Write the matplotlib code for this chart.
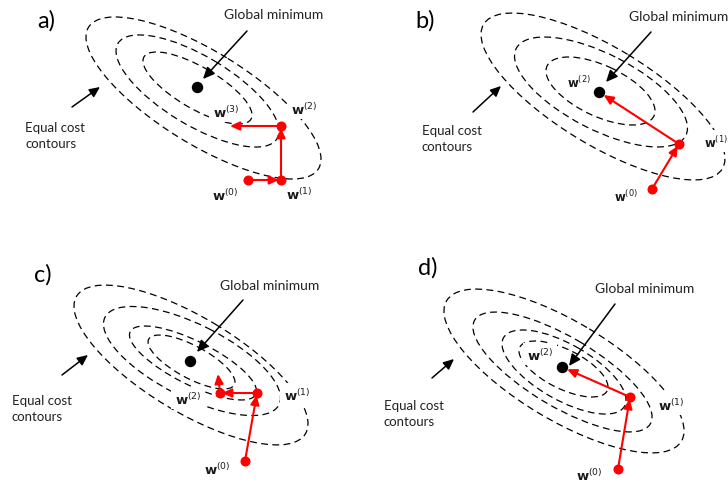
import matplotlib
matplotlib.use('Agg')
import matplotlib.pyplot as plt
from matplotlib.patches import Ellipse

# diagram coordinates are in image pixels (x right, y down)
# contours: (cx, cy, semi-major, semi-minor, tilt in degrees)
contours_a = [(203.5, 99, 135, 46.4, 31.6), (197.5, 92, 92.7, 34.5, 30.9), (197.5, 89, 61.9, 20.9, 30.2)]
contours_b = [(603, 97.5, 139.5, 48.8, 31.2), (601, 93, 95.3, 37.7, 27.2), (600.5, 92, 59, 25.4, 25.1)]
contours_c = [(191, 366, 133.5, 47.5, 31.0), (192, 362, 97.4, 36.4, 26.7),
              (193, 364, 70.2, 21.8, 26.6), (191.5, 363, 48.5, 16.3, 28.1)]
contours_d = [(564, 372, 136.8, 49.1, 30.9), (562.5, 373, 102, 34.8, 30.6),
              (564, 373, 69.5, 27.9, 29.6), (563.5, 370, 48.8, 19.6, 26.6)]

minima = [(197, 88), (599, 93), (190, 362), (562, 368)]

# gradient descent steps w(0), w(1), ... ; last point is where the final arrow ends
path_a = [(248, 181), (281, 181), (281, 127), (230, 127)]
path_b = [(652, 190), (679, 145), (599, 93)]
path_c = [(245, 462), (257, 394), (220, 394), (218, 375)]
path_d = [(618, 470), (630, 398), (562, 368)]
ends_on_min = [False, True, False, True]

# w labels: (superscript, x, y)
wlabels_a = [('0', 225, 195), ('1', 299, 194), ('2', 304, 109), ('3', 226, 112)]
wlabels_b = [('0', 626, 196), ('1', 716, 142), ('2', 579, 82)]
wlabels_c = [('0', 217, 469), ('1', 297, 395), ('2', 188, 399)]
wlabels_d = [('0', 589, 475), ('1', 671, 405), ('2', 540, 355)]

panel_labels = ['a)', 'b)', 'c)', 'd)']
panel_label_pos = [(37, 10), (415, 10), (34, 264), (418, 257)]

gmin_text_pos = [(274, 15), (629, 17), (270, 286), (645, 289)]
gmin_arrows = [((247, 32), (203, 80)), ((651, 33), (606, 83)),
               ((243, 301), (197, 353)), ((615, 305), (569, 367))]

eq_text_pos = [(25, 136), (422, 139), (12, 409), (384, 414)]
eq_arrows = [((72, 108), (100, 88)), ((473, 113), (501, 87)),
             ((62, 376), (88, 356)), ((432, 379), (454, 360))]

plt.rcParams['font.family'] = ['Lato', 'DejaVu Sans']
fig = plt.figure(figsize=(7.28, 4.85), dpi=100)
ax = fig.add_axes([0, 0, 1, 1])
ax.set_xlim(0, 728)
ax.set_ylim(485, 0)
ax.axis('off')


def arrow(p0, p1, color, lw, scale, shrink=0):
    ax.annotate('', xy=p1, xytext=p0,
                arrowprops=dict(arrowstyle='-|>,head_length=0.7,head_width=0.32',
                                color=color, lw=lw, mutation_scale=scale,
                                shrinkA=0, shrinkB=shrink),
                zorder=4)


all_contours = [contours_a, contours_b, contours_c, contours_d]
all_paths = [path_a, path_b, path_c, path_d]
all_wlabels = [wlabels_a, wlabels_b, wlabels_c, wlabels_d]

for i in range(4):
    # dashed equal cost contours
    for cx, cy, a, b, th in all_contours[i]:
        ax.add_patch(Ellipse((cx, cy), 2 * a, 2 * b, angle=th, fill=False,
                             ec='black', lw=0.9, ls=(0, (5.5, 3.5)), zorder=1))

    # global minimum
    ax.plot(*minima[i], 'o', color='black', ms=7.2, zorder=5)

    # red descent path
    path = all_paths[i]
    for k in range(len(path) - 1):
        last = k == len(path) - 2
        shr = 4 if (last and ends_on_min[i]) else (0 if last else 1.5)
        arrow(path[k], path[k + 1], 'red', 1.5, 8, shr)
    dots = path[:-1]
    ax.plot([p[0] for p in dots], [p[1] for p in dots], 'o', color='red',
            ms=6.2, ls='none', zorder=5)

    # w labels
    fs = 8.5 if i == 1 else 9.5
    for sup, x, y in all_wlabels[i]:
        ax.text(x, y, r'$\mathbf{w}^{(' + sup + ')}$', fontsize=fs, ha='center', va='center',
                color='#1a1a1a', zorder=3,
                bbox=dict(facecolor='white', edgecolor='none', pad=2.5))

    # panel letter
    ax.text(*panel_label_pos[i], panel_labels[i], fontsize=17, ha='left', va='top')

    # global minimum annotation
    x, y = gmin_text_pos[i]
    ax.text(x, y, 'Global minimum', fontsize=10, ha='left' if i == 1 else 'center',
            va='center', color='#222222')
    arrow(gmin_arrows[i][0], gmin_arrows[i][1], 'black', 1.1, 10)

    # equal cost contours annotation
    ax.text(*eq_text_pos[i], 'Equal cost\ncontours', fontsize=9.5, ha='left', va='center',
            linespacing=1.45, color='#222222')
    arrow(eq_arrows[i][0], eq_arrows[i][1], 'black', 1.1, 9)

plt.savefig('out.png', dpi=100)
